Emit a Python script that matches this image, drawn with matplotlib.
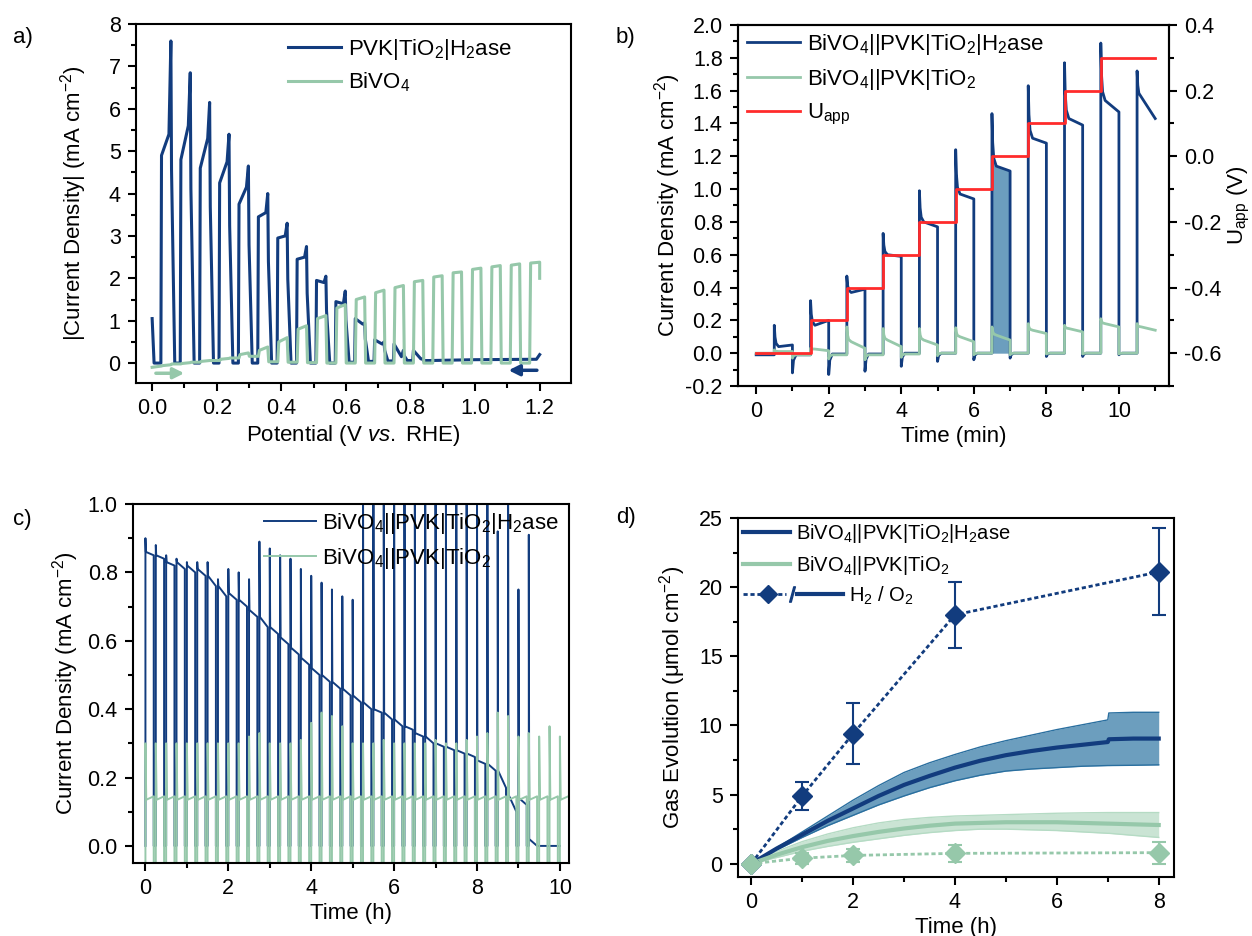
import matplotlib
matplotlib.use("Agg")
import matplotlib.pyplot as plt
import numpy as np
from matplotlib.lines import Line2D
from matplotlib.legend_handler import HandlerBase
from matplotlib.ticker import MultipleLocator

plt.rcParams["font.family"] = ["Liberation Sans", "DejaVu Sans"]
plt.rcParams["mathtext.fontset"] = "custom"
plt.rcParams["mathtext.rm"] = "Liberation Sans"
plt.rcParams["mathtext.it"] = "Liberation Sans:italic"
plt.rcParams["mathtext.default"] = "regular"
plt.rcParams["axes.unicode_minus"] = False

NAVY = "#123c7e"
SAGE = "#96c8aa"
RED = "#ff2b2b"
STEEL = "#6c9ebe"

# ---------------- a) chopped linear sweeps ----------------
# light-on windows (V), one per chopping period
a_on = [0.029, 0.089, 0.149, 0.209, 0.269, 0.329, 0.389, 0.449, 0.509, 0.569,
        0.629, 0.689, 0.749, 0.809, 0.869, 0.929, 0.989, 1.049, 1.109, 1.169]
a_off = [0.058, 0.118, 0.178, 0.238, 0.298, 0.358, 0.418, 0.478, 0.538, 0.598,
         0.658, 0.718, 0.778, 0.838, 0.898, 0.958, 1.018, 1.078, 1.138, 1.200]

# PVK|TiO2|H2ase (scanned 1.2 -> 0 V), first 14 pulses carry photocurrent
a_blue_dark = [0.0, 0.0, 0.0, 0.0, 0.0, 0.0, 0.0, 0.0, 0.0, 0.0, 0.02, 0.04, 0.05, 0.06]
a_blue_left = [4.9, 4.8, 4.6, 4.25, 3.75, 3.45, 2.95, 2.45, 1.95, 1.45, 1.05, 0.55, 0.45, 0.3]
a_blue_right = [5.4, 5.6, 5.3, 4.75, 4.15, 3.55, 3.0, 2.5, 1.9, 1.4, 0.92, 0.45, 0.15, 0.1]
a_blue_peak = [7.6, 6.85, 6.15, 5.4, 4.65, 4.0, 3.3, 2.75, 2.05, 1.7, 0.95, 0.5, 0.3, 0.1]
a_blue_start_v = [0.0, 0.006]
a_blue_start_j = [1.05, 0.0]
a_blue_tail_v = [0.86, 1.0, 1.19, 1.2]
a_blue_tail_j = [0.06, 0.08, 0.09, 0.2]

# BiVO4 (scanned 0 -> 1.2 V)
a_green_dark = [-0.07, -0.02, 0.02, 0.06, 0.12, 0.16, 0.03, 0.02, 0.01, 0.0,
                0.0, 0.0, 0.0, 0.0, 0.0, 0.0, 0.0, 0.0, 0.0, 0.0]
a_green_lo = [-0.06, -0.01, 0.04, 0.09, 0.2, 0.3, 0.5, 0.8, 1.05, 1.3,
              1.5, 1.66, 1.78, 1.92, 2.03, 2.13, 2.21, 2.27, 2.31, 2.36]
a_green_hi = [-0.04, 0.01, 0.06, 0.11, 0.24, 0.38, 0.6, 0.88, 1.12, 1.38,
              1.56, 1.72, 1.83, 1.95, 2.06, 2.15, 2.24, 2.3, 2.34, 2.38]
a_green_first = -0.1
a_green_last = 2.0

# ---------------- b) stepped bias chopped CA ----------------
b_on = [0.5, 1.5, 2.5, 3.5, 4.5, 5.5, 6.5, 7.5, 8.5, 9.5, 10.5]
b_off = [1.0, 2.0, 3.0, 4.0, 5.0, 6.0, 7.0, 8.0, 9.0, 10.0, 11.0]
b_blue_dark = [-0.01, -0.01, -0.005, -0.005, 0.0, 0.0, 0.0, 0.0, 0.0, 0.0, 0.0]
b_blue_spike = [0.17, 0.32, 0.47, 0.73, 0.99, 1.24, 1.46, 1.63, 1.77, 1.89, 1.72]
b_blue_start = [0.04, 0.17, 0.37, 0.6, 0.8, 0.97, 1.14, 1.31, 1.43, 1.54, 1.56]
b_blue_end = [0.05, 0.2, 0.39, 0.59, 0.77, 0.94, 1.11, 1.28, 1.39, 1.47, 1.43]
b_blue_dip = [-0.12, -0.13, -0.11, -0.08, -0.05, -0.04, -0.03, -0.02, -0.02, -0.01]

b_green_dark = [0.0, -0.01, -0.01, -0.01, -0.005, 0.0, 0.0, 0.0, 0.0, 0.0, 0.0]
b_green_spike = [0.02, 0.03, 0.16, 0.15, 0.15, 0.155, 0.16, 0.18, 0.17, 0.21, 0.18]
b_green_start = [0.01, 0.025, 0.07, 0.08, 0.08, 0.1, 0.11, 0.14, 0.15, 0.18, 0.16]
b_green_end = [0.01, 0.015, 0.03, 0.04, 0.05, 0.07, 0.08, 0.12, 0.13, 0.16, 0.14]
b_green_dip = [-0.03, -0.035, -0.04, -0.025, -0.015, -0.01, -0.01, -0.005, -0.005, -0.005]

b_u_edges = [0.0, 1.5, 2.5, 3.5, 4.5, 5.5, 6.5, 7.5, 8.5, 9.5, 11.0]
b_u_vals = [-0.6, -0.5, -0.4, -0.3, -0.2, -0.1, 0.0, 0.1, 0.2, 0.3]
b_fill_window = (6.5, 7.0)

# ---------------- c) long-term chopped CA ----------------
c_on = [0.0, 0.25, 0.5, 0.75, 1.0, 1.25, 1.5, 1.75, 2.0, 2.25, 2.5, 2.75, 3.0,
        3.25, 3.5, 3.75, 4.0, 4.25, 4.5, 4.75, 5.0, 5.25, 5.5, 5.75, 6.0, 6.25,
        6.5, 6.75, 7.0, 7.25, 7.5, 7.75, 8.0, 8.25, 8.5, 8.75, 9.0, 9.25]
c_blue_spike = [0.90, 0.88, 0.85, 0.84, 0.83, 0.83, 0.83, 0.78, 0.81, 0.80, 0.78,
                0.89, 0.87, 0.85, 0.84, 0.81, 0.79, 0.77, 0.75, 0.73, 0.72,
                1.1, 1.1, 1.1, 1.1, 1.1, 1.1, 1.1, 1.1, 1.1, 1.1, 1.1, 1.1, 1.1,
                0.92, 1.1, 0.75, 0.91]
c_blue_start = [0.86, 0.85, 0.83, 0.83, 0.82, 0.81, 0.79, 0.76, 0.74, 0.72, 0.69,
                0.67, 0.64, 0.61, 0.58, 0.55, 0.52, 0.50, 0.48, 0.46, 0.44,
                0.42, 0.40, 0.39, 0.37, 0.35, 0.33, 0.32, 0.30, 0.29, 0.28,
                0.27, 0.25, 0.24, 0.22, 0.15, 0.14, 0.02]
c_blue_end = [0.85, 0.84, 0.82, 0.81, 0.80, 0.79, 0.76, 0.73, 0.72, 0.70, 0.67,
              0.64, 0.62, 0.59, 0.56, 0.53, 0.50, 0.48, 0.46, 0.44, 0.42,
              0.40, 0.39, 0.37, 0.35, 0.34, 0.32, 0.30, 0.29, 0.28, 0.27,
              0.26, 0.24, 0.22, 0.17, 0.10, 0.12, 0.0]
c_blue_tail_t = 10.0

c_green_on = c_on + [9.5, 9.75, 10.0]
c_green_spike = [0.30, 0.30, 0.30, 0.30, 0.30, 0.30, 0.30, 0.30, 0.30, 0.30, 0.32,
                 0.33, 0.30, 0.30, 0.30, 0.31, 0.36, 0.39, 0.38, 0.35, 0.30,
                 0.30, 0.30, 0.31, 0.30, 0.30, 0.30, 0.30, 0.31, 0.30, 0.30,
                 0.31, 0.32, 0.33, 0.39, 0.38, 0.32, 0.33, 0.32, 0.35, 0.32]
c_green_lo = 0.135
c_green_hi = 0.145
c_green_dark = -0.08
c_green_end_t = 10.2

# ---------------- d) gas evolution ----------------
d_h2_t = [0, 1, 2, 4, 8]
d_h2_enz = [0.0, 4.9, 9.4, 18.0, 21.1]
d_h2_enz_err = [0.0, 1.0, 2.2, 2.4, 3.15]
d_h2_ref = [0.0, 0.4, 0.6, 0.75, 0.8]
d_h2_ref_err = [0.0, 0.4, 0.5, 0.6, 0.8]

d_o2_t = [0, 0.5, 1, 1.5, 2, 2.5, 3, 3.5, 4, 4.5, 5, 5.5, 6, 6.5, 7, 7.02, 7.5, 8]
d_o2_enz = [0, 1.1, 2.1, 3.1, 4.0, 4.9, 5.7, 6.35, 6.95, 7.45, 7.85, 8.15, 8.4,
            8.6, 8.8, 9.0, 9.05, 9.05]
d_o2_enz_hi = [0, 1.15, 2.3, 3.45, 4.6, 5.65, 6.6, 7.3, 7.9, 8.45, 8.9, 9.3, 9.7,
               10.05, 10.4, 10.9, 10.95, 10.95]
d_o2_enz_lo = [0, 1.0, 1.9, 2.75, 3.5, 4.25, 4.9, 5.5, 6.0, 6.4, 6.7, 6.85, 6.95,
               7.05, 7.1, 7.1, 7.12, 7.15]
d_o2_ref = [0, 0.65, 1.2, 1.65, 2.0, 2.3, 2.55, 2.75, 2.9, 2.95, 3.0, 3.0, 3.0,
            2.95, 2.9, 2.9, 2.85, 2.8]
d_o2_ref_hi = [0, 0.9, 1.6, 2.15, 2.6, 2.95, 3.2, 3.35, 3.45, 3.5, 3.55, 3.6,
               3.65, 3.68, 3.7, 3.7, 3.7, 3.7]
d_o2_ref_lo = [0, 0.45, 0.9, 1.25, 1.55, 1.8, 2.05, 2.25, 2.4, 2.5, 2.5, 2.45,
               2.4, 2.3, 2.2, 2.2, 2.05, 1.9]

LBL_ENZ = r"BiVO$_4$||PVK|TiO$_2$|H$_2$ase"
LBL_REF = r"BiVO$_4$||PVK|TiO$_2$"


def build_a_blue():
    xs = list(a_blue_start_v)
    ys = list(a_blue_start_j)
    for k in range(len(a_blue_left)):
        xl, xr, d = a_on[k], a_off[k], a_blue_dark[k]
        nd = a_blue_dark[k + 1] if k + 1 < len(a_blue_dark) else a_blue_tail_j[0]
        xs += [xl - 0.002, xl, xr - 0.006, xr, xr + 0.002, xr + 0.012]
        ys += [d, a_blue_left[k], a_blue_right[k], a_blue_peak[k],
               0.6 * a_blue_peak[k], nd]
    xs += a_blue_tail_v
    ys += a_blue_tail_j
    return xs, ys


def build_a_green():
    xs, ys = [0.0], [a_green_first]
    for k in range(len(a_on)):
        xl, xr = a_on[k], a_off[k]
        xs += [xl, xl + 0.003, xr]
        ys += [a_green_dark[k], a_green_lo[k], a_green_hi[k]]
        if k + 1 < len(a_on):
            xs += [xr + 0.003]
            ys += [a_green_dark[k + 1]]
    xs += [a_off[-1]]
    ys += [a_green_last]
    return xs, ys


def build_b(dark, spike, start, end, dip):
    xs, ys = [0.0], [dark[0]]
    for k, t in enumerate(b_on):
        # fast decay after the light is switched on
        xs += [t, t, t + 0.02, t + 0.05, t + 0.12, b_off[k]]
        ys += [dark[k], spike[k],
               start[k] + 0.45 * (spike[k] - start[k]),
               start[k] + 0.15 * (spike[k] - start[k]),
               start[k], end[k]]
        if k < len(dip):
            xs += [b_off[k], b_off[k] + 0.03, b_off[k] + 0.1]
            ys += [dip[k], dark[k + 1] + 0.3 * (dip[k] - dark[k + 1]), dark[k + 1]]
    return np.array(xs), np.array(ys)


def build_c_blue():
    xs, ys = [], []
    for k, t in enumerate(c_on):
        xs += [t, t, t + 0.01, t + 0.2, t + 0.2, t + 0.25]
        ys += [0.0, c_blue_spike[k], c_blue_start[k], c_blue_end[k], 0.0, 0.0]
    xs += [c_blue_tail_t]
    ys += [0.0]
    return xs, ys


def build_c_green():
    xs, ys = [], []
    n = len(c_green_on)
    for k, t in enumerate(c_green_on):
        if k < n - 1:
            xs += [t, t, t + 0.02, t + 0.2, t + 0.2, t + 0.25]
            ys += [c_green_dark, c_green_spike[k], c_green_lo, c_green_hi,
                   c_green_dark, c_green_dark]
        else:
            xs += [t, t, t + 0.02, c_green_end_t]
            ys += [c_green_dark, c_green_spike[k], c_green_lo, c_green_hi]
    return xs, ys


class H2O2Handler(HandlerBase):
    def create_artists(self, legend, orig_handle, xdescent, ydescent,
                       width, height, fontsize, trans):
        y = height / 2 - ydescent
        x0 = -xdescent
        dots = Line2D([x0, x0 + 0.43 * width], [y, y], color=NAVY, lw=2,
                      ls=(0, (1.5, 1)))
        dia = Line2D([x0 + 0.25 * width], [y], color=NAVY, marker="D", ms=9,
                     ls="none")
        slash = Line2D([x0 + 0.49 * width], [y], color=NAVY, marker="$/$",
                       ms=11, ls="none")
        solid = Line2D([x0 + 0.54 * width, x0 + width], [y, y], color=NAVY, lw=3)
        arts = [dots, dia, slash, solid]
        for a in arts:
            a.set_transform(trans)
        return arts


def style(ax, xmaj, xmin, ymaj, ymin):
    for s in ax.spines.values():
        s.set_linewidth(1.5)
    ax.tick_params(which="both", direction="out", width=1.5, labelsize=15.5,
                   top=False, right=False)
    ax.tick_params(which="major", length=6, pad=5)
    ax.tick_params(which="minor", length=3.5)
    ax.xaxis.set_major_locator(MultipleLocator(xmaj))
    ax.xaxis.set_minor_locator(MultipleLocator(xmin))
    ax.yaxis.set_major_locator(MultipleLocator(ymaj))
    ax.yaxis.set_minor_locator(MultipleLocator(ymin))


W, H = 1252, 936
fig = plt.figure(figsize=(W / 100, H / 100), dpi=100)


def add_ax(l, r, t, b):
    return fig.add_axes([l / W, 1 - b / H, (r - l) / W, (b - t) / H])


axA = add_ax(136, 571, 24, 383)
axB = add_ax(738, 1169, 25, 386)
axC = add_ax(133, 569, 504, 863)
axD = add_ax(738, 1174, 518, 877)

# ---- a ----
xb, yb = build_a_blue()
xg, yg = build_a_green()
axA.plot(xb, yb, color=NAVY, lw=2.2, label="PVK|TiO$_2$|H$_2$ase")
axA.plot(xg, yg, color=SAGE, lw=2.2, label="BiVO$_4$")
axA.annotate("", xy=(0.108, -0.24), xytext=(0.003, -0.24),
             arrowprops=dict(arrowstyle="-|>", color=SAGE, lw=2.5,
                             mutation_scale=16))
axA.annotate("", xy=(1.095, -0.17), xytext=(1.2, -0.17),
             arrowprops=dict(arrowstyle="-|>", color=NAVY, lw=2.5,
                             mutation_scale=16))
axA.set_xlim(-0.05, 1.297)
axA.set_ylim(-0.47, 8)
style(axA, 0.2, 0.1, 1, 0.5)
axA.set_xlabel(r"Potential (V $\it{vs.}$ RHE)", fontsize=16, labelpad=3)
axA.set_ylabel(r"|Current Density| (mA cm$^{-2}$)", fontsize=16)
axA.yaxis.set_label_coords(-0.108, 0.5)
axA.legend(loc="upper left", bbox_to_anchor=(0.349, 0.965), frameon=False,
           fontsize=16, borderpad=0, borderaxespad=0, handlelength=2.4,
           handletextpad=0.3, labelspacing=0.4)

# ---- b ----
xbb, ybb = build_b(b_blue_dark, b_blue_spike, b_blue_start, b_blue_end, b_blue_dip)
xbg, ybg = build_b(b_green_dark, b_green_spike, b_green_start, b_green_end, b_green_dip)
seg = (xbb >= b_fill_window[0]) & (xbb <= b_fill_window[1])
axB.fill_between(xbb[seg], 0, np.maximum(ybb[seg], 0), color=STEEL, lw=0, zorder=1)
lb, = axB.plot(xbb, ybb, color=NAVY, lw=2, zorder=2)
lg, = axB.plot(xbg, ybg, color=SAGE, lw=2, zorder=3)
axB.set_xlim(-0.5, 11.38)
axB.set_ylim(-0.2, 2.0)
style(axB, 2, 1, 0.2, 0.1)
axB.set_xlabel("Time (min)", fontsize=16, labelpad=3)
axB.set_ylabel(r"Current Density (mA cm$^{-2}$)", fontsize=16)
axB.yaxis.set_label_coords(-0.1285, 0.5)
axB2 = axB.twinx()
lu, = axB2.plot(b_u_edges, b_u_vals + [b_u_vals[-1]], drawstyle="steps-post",
                color=RED, lw=2)
axB2.set_ylim(-0.7, 0.4)
for s in axB2.spines.values():
    s.set_linewidth(1.5)
axB2.tick_params(which="both", direction="out", width=1.5, labelsize=15.5)
axB2.tick_params(which="major", length=6, pad=5)
axB2.tick_params(which="minor", length=3.5)
axB2.yaxis.set_major_locator(MultipleLocator(0.2))
axB2.yaxis.set_minor_locator(MultipleLocator(0.1))
axB2.set_ylabel(r"U$_{app}$ (V)", fontsize=16)
axB2.yaxis.set_label_coords(1.132, 0.5)
axB.legend([lb, lg, lu], [LBL_ENZ, LBL_REF, r"U$_{app}$"], loc="upper left",
           bbox_to_anchor=(0.021, 0.98), frameon=False, fontsize=16,
           borderpad=0, borderaxespad=0, handlelength=2.4, handletextpad=0.3,
           labelspacing=0.45)

# ---- c ----
xcb, ycb = build_c_blue()
xcg, ycg = build_c_green()
axC.plot(xcb, ycb, color=NAVY, lw=1.4, label=LBL_ENZ)
axC.plot(xcg, ycg, color=SAGE, lw=1.4, label=LBL_REF)
axC.set_xlim(-0.3, 10.22)
axC.set_ylim(-0.05, 1.0)
style(axC, 2, 1, 0.2, 0.1)
axC.set_xlabel("Time (h)", fontsize=16, labelpad=3)
axC.set_ylabel(r"Current Density (mA cm$^{-2}$)", fontsize=16)
axC.yaxis.set_label_coords(-0.119, 0.5)
axC.legend(loc="upper left", bbox_to_anchor=(0.30, 0.98), frameon=False,
           fontsize=16, borderpad=0, borderaxespad=0, handlelength=2.33,
           handletextpad=0.3, labelspacing=0.45)

# ---- d ----
axD.fill_between(d_o2_t, d_o2_enz_lo, d_o2_enz_hi, color=STEEL, lw=0, zorder=1)
axD.plot(d_o2_t, d_o2_enz_hi, color="#2a6f9f", lw=1, zorder=2)
axD.plot(d_o2_t, d_o2_enz_lo, color="#2a6f9f", lw=1, zorder=2)
axD.fill_between(d_o2_t, d_o2_ref_lo, d_o2_ref_hi, color="#cae4d4", lw=0, zorder=1)
axD.plot(d_o2_t, d_o2_ref_hi, color="#b5dbc4", lw=1, zorder=2)
axD.plot(d_o2_t, d_o2_ref_lo, color="#b5dbc4", lw=1, zorder=2)
ld1, = axD.plot(d_o2_t, d_o2_enz, color=NAVY, lw=3, zorder=3)
ld2, = axD.plot(d_o2_t, d_o2_ref, color=SAGE, lw=3, zorder=3)
axD.errorbar(d_h2_t, d_h2_enz, yerr=d_h2_enz_err, color=NAVY, lw=2,
             ls=(0, (1.5, 1)), marker="D", ms=10, capsize=5, elinewidth=1.5,
             capthick=1.5, zorder=4)
axD.errorbar(d_h2_t, d_h2_ref, yerr=d_h2_ref_err, color=SAGE, lw=2,
             ls=(0, (1.5, 1)), marker="D", ms=10, capsize=5, elinewidth=1.5,
             capthick=1.5, zorder=4)
axD.set_xlim(-0.26, 8.3)
axD.set_ylim(-0.96, 25)
style(axD, 2, 1, 5, 2.5)
axD.set_xlabel("Time (h)", fontsize=16, labelpad=3)
axD.set_ylabel(r"Gas Evolution ($\mu$mol cm$^{-2}$)", fontsize=16)
axD.yaxis.set_label_coords(-0.1156, 0.5)
leg1 = axD.legend([ld1, ld2], [LBL_ENZ, LBL_REF], loc="upper left",
                  bbox_to_anchor=(0.011, 0.99), frameon=False, fontsize=14.5,
                  borderpad=0, borderaxespad=0, handlelength=2.33,
                  handletextpad=0.32, labelspacing=0.45)
axD.add_artist(leg1)
proxy = Line2D([], [], color=NAVY)
axD.legend([proxy], [r"H$_2$ / O$_2$"], handler_map={proxy: H2O2Handler()},
           loc="upper left", bbox_to_anchor=(0.011, 0.815), frameon=False,
           fontsize=14.5, borderpad=0, borderaxespad=0, handlelength=5.0,
           handletextpad=0.27)

for txt, x, y in [("a)", 13, 38), ("b)", 616, 38), ("c)", 13, 520), ("d)", 616, 518)]:
    fig.text(x / W, 1 - y / H, txt, fontsize=16, va="center", ha="left")

fig.savefig("out.png", dpi=100)
